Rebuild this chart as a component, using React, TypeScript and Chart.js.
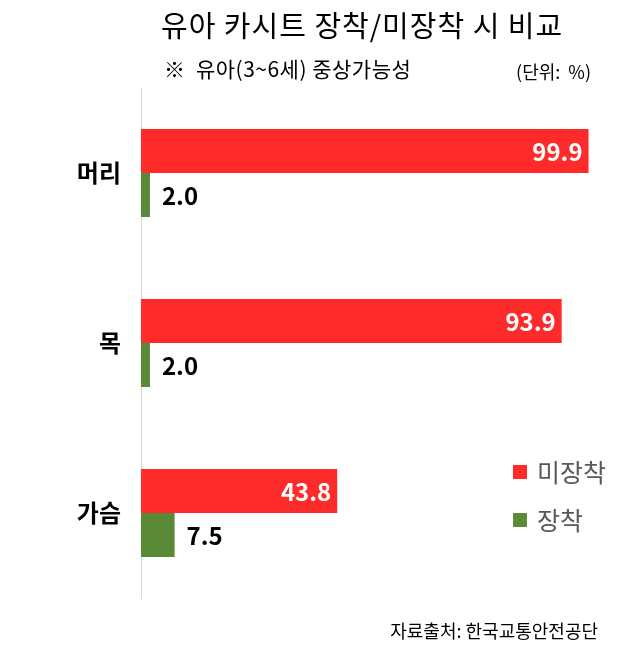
import React, { useEffect, useRef } from "react";
import { Chart, registerables } from "chart.js";

Chart.register(...registerables);

const categories = ["머리", "목", "가슴"];
const unbelted = [99.9, 93.9, 43.8];
const belted = [2.0, 2.0, 7.5];
const seriesNames = ["미장착", "장착"];
const titleText = "유아 카시트 장착/미장착 시 비교";
const subtitleText = "※  유아(3~6세) 중상가능성";
const unitText = "(단위:  %)";
const sourceText = "자료출처: 한국교통안전공단";

const RED = "#FF2A2A";
const GREEN = "#5A8A38";
const FONT = "'Noto Sans CJK KR', 'Noto Sans', sans-serif";

const overlayPlugin = {
  id: "overlay",
  afterDatasetsDraw(chart: any) {
    const ctx = chart.ctx;
    ctx.save();
    chart.data.datasets.forEach((ds: any, di: number) => {
      const meta = chart.getDatasetMeta(di);
      meta.data.forEach((bar: any, i: number) => {
        const v = ds.data[i];
        const txt = v.toFixed(1);
        ctx.font = `bold 24px ${FONT}`;
        ctx.textBaseline = "middle";
        if (di === 0) {
          ctx.fillStyle = "#FFFFFF";
          ctx.textAlign = "right";
          ctx.fillText(txt, bar.x - 6, bar.y + 1);
        } else {
          ctx.fillStyle = "#000000";
          ctx.textAlign = "left";
          ctx.fillText(txt, bar.x + 12, bar.y + 1);
        }
      });
    });
    ctx.fillStyle = "#000000";
    ctx.textBaseline = "middle";
    ctx.textAlign = "left";
    ctx.font = `29px ${FONT}`;
    (ctx as any).letterSpacing = "1px";
    ctx.fillText(titleText, 161, 26);
    ctx.font = `21px ${FONT}`;
    (ctx as any).letterSpacing = "0.5px";
    ctx.fillText(subtitleText, 164, 69);
    (ctx as any).letterSpacing = "0px";
    ctx.font = `18px ${FONT}`;
    ctx.textAlign = "right";
    ctx.fillText(unitText, 591, 72);
    ctx.fillText(sourceText, 598, 631);
    const colors = [RED, GREEN];
    const ys = [472, 520];
    ctx.textAlign = "left";
    ctx.font = `25px ${FONT}`;
    seriesNames.forEach((n, i) => {
      ctx.fillStyle = colors[i];
      ctx.fillRect(513, ys[i] - 7, 14, 14);
      ctx.fillStyle = "#595959";
      ctx.fillText(n, 537, ys[i]);
    });
    ctx.restore();
  },
};

export default function App() {
  const ref = useRef<HTMLCanvasElement>(null);
  useEffect(() => {
    const chart = new Chart(ref.current!, {
      type: "bar",
      data: {
        labels: categories,
        datasets: [
          { label: seriesNames[0], data: unbelted, backgroundColor: RED },
          { label: seriesNames[1], data: belted, backgroundColor: GREEN },
        ],
      },
      options: {
        indexAxis: "y",
        animation: false,
        responsive: false,
        devicePixelRatio: 1,
        layout: { padding: { top: 88, bottom: 56, left: 0, right: 40 } },
        datasets: { bar: { barPercentage: 1, categoryPercentage: 0.5176 } },
        plugins: { legend: { display: false }, tooltip: { enabled: false }, title: { display: false } },
        scales: {
          x: { min: 0, max: 100, display: false },
          y: {
            grid: { display: false, drawTicks: false },
            border: { display: true, color: "#D9D9D9", width: 1 },
            ticks: { color: "#000000", padding: 20, font: { family: FONT, size: 24, weight: "bold" } },
            afterFit: (s: any) => { s.width = 141; },
          },
        },
      },
      plugins: [overlayPlugin],
    } as any);
    return () => chart.destroy();
  }, []);
  return (
    <div style={{ position: "fixed", left: 0, top: 0, width: 629, height: 654, background: "#fff" }}>
      <canvas ref={ref} width={629} height={654} />
    </div>
  );
}
